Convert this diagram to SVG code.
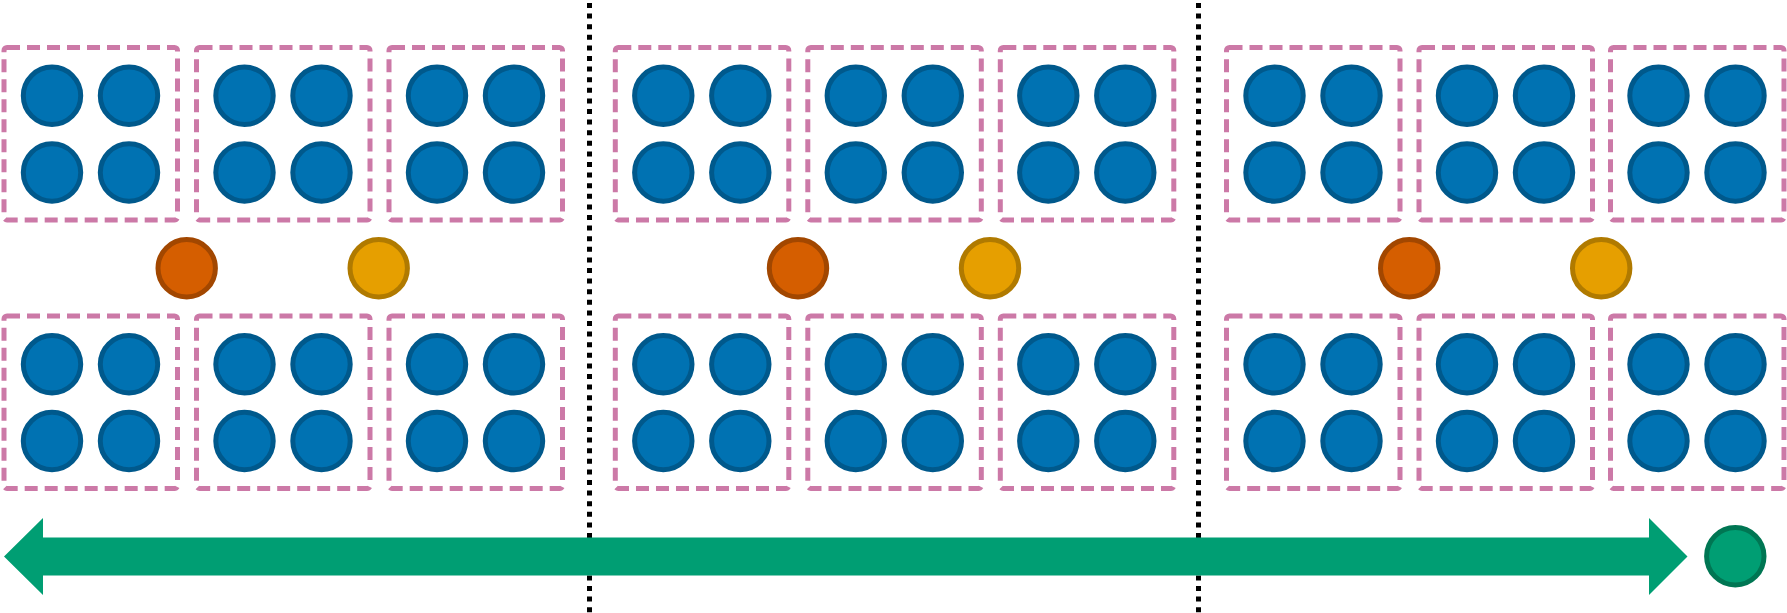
<svg xmlns="http://www.w3.org/2000/svg" xmlns:xlink="http://www.w3.org/1999/xlink" width="1787" height="613" viewBox="0 0 1787 613">
<style>
.box{fill:none;stroke:#CC79A7;stroke-width:5;stroke-dasharray:13 7;stroke-linejoin:round}
.b{fill:#0072B2;stroke:#00598C;stroke-width:5}
.o{fill:#D55E00;stroke:#A24700;stroke-width:5}
.y{fill:#E69F00;stroke:#B07A00;stroke-width:5}
.g{fill:#009E73;stroke:#007653;stroke-width:5}
.sep{stroke:#000;stroke-width:5;stroke-dasharray:5 5.6}
.arrow{fill:#009E73}
</style>
<defs>
<g id="tile">
<rect class="box" x="0" y="0" width="173.5" height="172.5" rx="3"/>
<circle class="b" cx="48" cy="48.3" r="28.7"/>
<circle class="b" cx="125" cy="48.3" r="28.7"/>
<circle class="b" cx="48" cy="125" r="28.7"/>
<circle class="b" cx="125" cy="125" r="28.7"/>
</g>
</defs>
<rect width="1787" height="613" fill="#fff"/>
<g id="separators">
<line class="sep" x1="589.5" y1="3" x2="589.5" y2="613"/>
<line class="sep" x1="1198.5" y1="3" x2="1198.5" y2="613"/>
</g>
<g id="connectors">
<polygon class="arrow" points="4,556.5 43,518 43,537.5 1649,537.5 1649,518 1687.5,556.5 1649,595 1649,575.5 43,575.5 43,595"/>
</g>
<g id="group1">
<g id="g1-t1"><use xlink:href="#tile" x="4" y="47.5"/></g>
<g id="g1-t2"><use xlink:href="#tile" x="196.5" y="47.5"/></g>
<g id="g1-t3"><use xlink:href="#tile" x="389" y="47.5"/></g>
<g id="g1-b1"><use xlink:href="#tile" x="4" y="316"/></g>
<g id="g1-b2"><use xlink:href="#tile" x="196.5" y="316"/></g>
<g id="g1-b3"><use xlink:href="#tile" x="389" y="316"/></g>
<g id="g1-orange"><circle class="o" cx="186.7" cy="268.3" r="28.7"/></g>
<g id="g1-yellow"><circle class="y" cx="378.7" cy="268.3" r="28.7"/></g>
</g>
<g id="group2">
<g id="g2-t1"><use xlink:href="#tile" x="615.3" y="47.5"/></g>
<g id="g2-t2"><use xlink:href="#tile" x="807.8" y="47.5"/></g>
<g id="g2-t3"><use xlink:href="#tile" x="1000.3" y="47.5"/></g>
<g id="g2-b1"><use xlink:href="#tile" x="615.3" y="316"/></g>
<g id="g2-b2"><use xlink:href="#tile" x="807.8" y="316"/></g>
<g id="g2-b3"><use xlink:href="#tile" x="1000.3" y="316"/></g>
<g id="g2-orange"><circle class="o" cx="798" cy="268.3" r="28.7"/></g>
<g id="g2-yellow"><circle class="y" cx="990" cy="268.3" r="28.7"/></g>
</g>
<g id="group3">
<g id="g3-t1"><use xlink:href="#tile" x="1226.5" y="47.5"/></g>
<g id="g3-t2"><use xlink:href="#tile" x="1419" y="47.5"/></g>
<g id="g3-t3"><use xlink:href="#tile" x="1610.5" y="47.5"/></g>
<g id="g3-b1"><use xlink:href="#tile" x="1226.5" y="316"/></g>
<g id="g3-b2"><use xlink:href="#tile" x="1419" y="316"/></g>
<g id="g3-b3"><use xlink:href="#tile" x="1610.5" y="316"/></g>
<g id="g3-orange"><circle class="o" cx="1409.2" cy="268.3" r="28.7"/></g>
<g id="g3-yellow"><circle class="y" cx="1601.2" cy="268.3" r="28.7"/></g>
</g>
<g id="green-node"><circle class="g" cx="1735.3" cy="556.3" r="28.7"/></g>
</svg>
